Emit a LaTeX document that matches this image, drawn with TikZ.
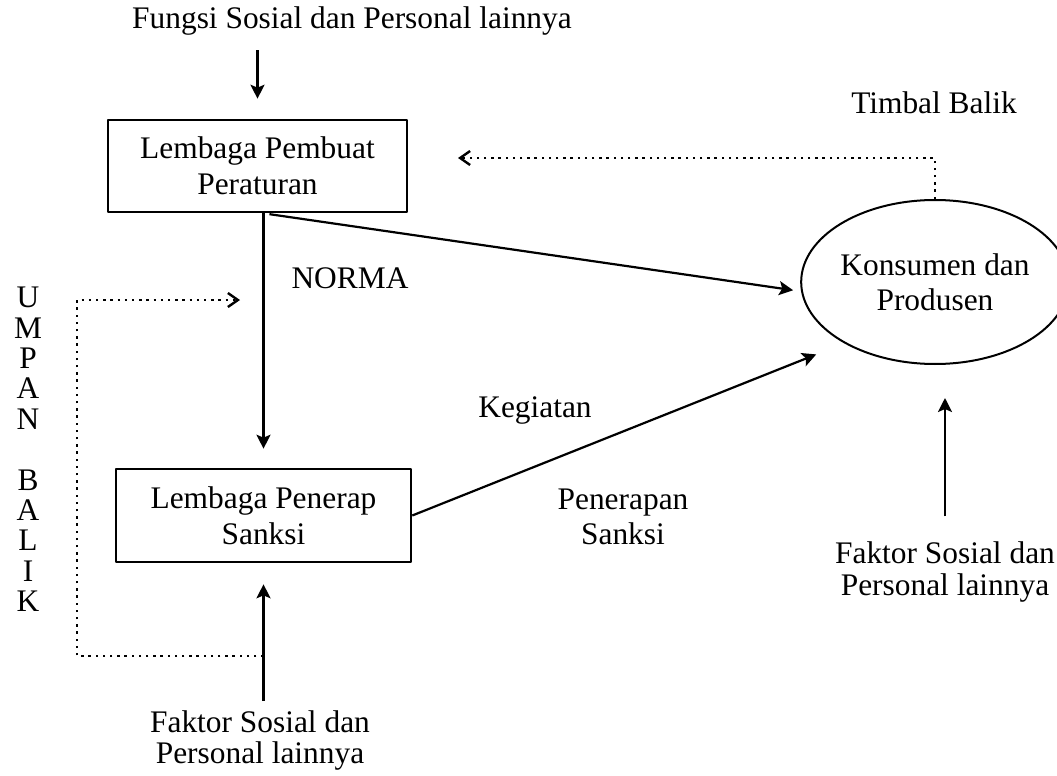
\documentclass[tikz,border=0pt]{standalone}
\usepackage{fontspec}
\setmainfont{Liberation Serif}
\usetikzlibrary{arrows.meta,shapes.geometric}

\begin{document}
\begin{tikzpicture}[x=0.5pt, y=-0.5pt, line join=round, font=\fontsize{15.7pt}{17.5pt}\selectfont,
		>={Stealth[length=7pt,width=7pt,inset=1.5pt]},
		kotak/.style={draw, line width=1.3pt, minimum width=149.5pt, minimum height=46pt, inner sep=0pt, align=center},
		teks/.style={inner sep=0pt, align=center},
		panah/.style={->, line width=1.1pt},
		balik/.style={-{Straight Barb[length=5pt,width=7pt]}, line width=1.2pt, line cap=butt, dash pattern=on 1.2pt off 2.4pt}]
	\useasboundingbox (0,0) rectangle (1057,776);
	\node[kotak] (pembuat) at (257.5,166) {Lembaga Pembuat\\[0.5pt]Peraturan};
	\node[kotak, minimum width=147.5pt, minimum height=46.5pt] (penerap) at (263.5,515.5) {Lembaga Penerap\\[0.5pt]Sanksi};
	\node[draw, ellipse, line width=1pt, minimum width=117pt, minimum height=82pt, inner sep=0pt, align=center] (konsumen) at (935,282) {Konsumen dan\\Produsen};
	\node[teks, anchor=base] (fungsi) at (352,28) {Fungsi Sosial dan Personal lainnya};
	\node[teks, anchor=base] (timbal) at (934,113) {Timbal Balik};
	\node[teks, anchor=base] (norma) at (350,288) {NORMA};
	\node[teks, anchor=base] (kegiatan) at (535,417) {Kegiatan};
	\node[teks] (penerapan) at (623,517) {Penerapan\\Sanksi};
	\node[teks] (faktorA) at (260,740.5) {Faktor Sosial dan\\[-1.75pt]Personal lainnya};
	\node[teks] (faktorB) at (945,571.75) {Faktor Sosial dan\\[-1.75pt]Personal lainnya};
	\node[teks, font=\fontsize{15.7pt}{15.2pt}\selectfont] (umpan) at (28,449.5) {U\\M\\P\\A\\N\\[15.2pt]B\\A\\L\\I\\K};
	% panah utama
	\draw[panah, shorten <=7.5pt, shorten >=10pt] (fungsi.south -| pembuat.north) -- (pembuat.north);
	\draw[panah, shorten >=9.5pt] (pembuat.south -| penerap.north) -- (penerap.north);
	\draw[panah, shorten <=3pt, shorten >=4pt] (pembuat.south -| penerap.north) -- (konsumen.184.6);
	\draw[panah, shorten >=15pt] (penerap.east) -- (konsumen.214.8);
	\draw[panah, shorten <=4.5pt, shorten >=10.5pt] (faktorA.north -| penerap.south) -- (penerap.south);
	\draw[panah, shorten <=12.5pt, shorten >=16.5pt] (faktorB.north) -- (faktorB.north |- konsumen.south);
	% umpan balik dan timbal balik
	\coordinate (ubawal) at (263.5,656);
	\coordinate (ubakhir) at (240,300);
	\coordinate (tbakhir) at (458,158);
	\draw[balik] (ubawal) -| (77,300) -- (ubakhir);
	\draw[balik] (konsumen.north) |- (tbakhir);
\end{tikzpicture}
\end{document}
